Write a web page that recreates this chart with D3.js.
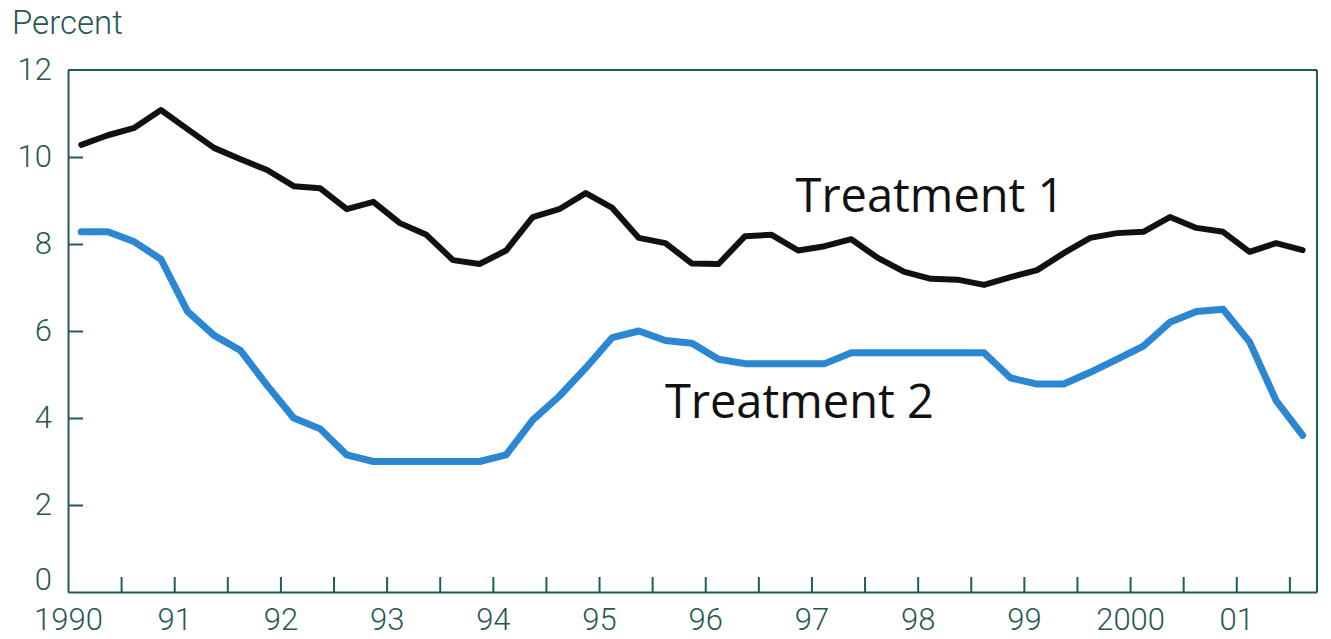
<!DOCTYPE html>
<html>
<head>
<meta charset="utf-8">
<script src="https://cdnjs.cloudflare.com/ajax/libs/d3/7.8.5/d3.min.js"></script>
<style>
    body { margin: 0; background: #fff; }
    svg { display: block; }
    .axis text { font-family: Roboto, "Liberation Sans", sans-serif; font-weight: 300; fill: #2a5754; }
    .axis line, .axis path { stroke: #1e5c5a; stroke-width: 2; }
    .series-label { font-family: "Open Sans", "Noto Sans", sans-serif; font-size: 47px; fill: #111; }
</style>
</head>
<body>
<svg id="chart" width="1331" height="639"></svg>
<script>
// quarterly observations, plotted at mid-quarter (1990Q1 .. 2001Q3)
const quarters = d3.range(47).map(i => 1990.125 + i * 0.25);

const treatment1 = [
    10.28, 10.50, 10.67, 11.08,
    10.64, 10.21, 9.95, 9.70,
    9.33, 9.28, 8.80, 8.97,
    8.48, 8.21, 7.63, 7.54,
    7.85, 8.62, 8.80, 9.17,
    8.83, 8.14, 8.02, 7.55,
    7.54, 8.18, 8.21, 7.85,
    7.95, 8.11, 7.68, 7.36,
    7.20, 7.18, 7.06, 7.24,
    7.40, 7.79, 8.14, 8.25,
    8.28, 8.62, 8.37, 8.28,
    7.82, 8.02, 7.86
];

const treatment2 = [
    8.28, 8.28, 8.05, 7.65,
    6.45, 5.90, 5.55, 4.75,
    4.00, 3.75, 3.15, 3.00,
    3.00, 3.00, 3.00, 3.00,
    3.15, 3.95, 4.50, 5.15,
    5.85, 6.00, 5.78, 5.72,
    5.35, 5.25, 5.25, 5.25,
    5.25, 5.50, 5.50, 5.50,
    5.50, 5.50, 5.50, 4.92,
    4.78, 4.78, 5.05, 5.35,
    5.65, 6.20, 6.45, 6.50,
    5.75, 4.40, 3.60
];

const yTicks = [0, 2, 4, 6, 8, 10, 12];
const xTicks = d3.range(1990, 2002, 0.5);
const yearLabel = t => (t === 1990 || t === 2000) ? String(t) : String(t % 100).padStart(2, '0');

const svg = d3.select('#chart');
const x = d3.scaleLinear().domain([1990, 2001.76]).range([68, 1317]);
const y = d3.scaleLinear().domain([0, 12]).range([592, 70]);

// frame: top and right edges
svg.append('line').attr('x1', x(1990)).attr('x2', x(2001.76)).attr('y1', y(12)).attr('y2', y(12))
    .attr('stroke', '#1e5c5a').attr('stroke-width', 2);
svg.append('line').attr('x1', x(2001.76)).attr('x2', x(2001.76)).attr('y1', y(12)).attr('y2', y(0))
    .attr('stroke', '#1e5c5a').attr('stroke-width', 2);

const yAxis = svg.append('g').attr('class', 'axis')
    .attr('transform', `translate(${x(1990)},0)`)
    .call(d3.axisLeft(y).tickValues(yTicks).tickSizeInner(-15).tickSizeOuter(0).tickPadding(16));
yAxis.selectAll('text').attr('font-size', 31);
yAxis.selectAll('.tick line').filter(d => d === 0 || d === 12).remove();
yAxis.selectAll('.tick text').filter(d => d === 0).attr('dy', '-0.08em');

const xAxis = svg.append('g').attr('class', 'axis')
    .attr('transform', `translate(0,${y(0)})`)
    .call(d3.axisBottom(x).tickValues(xTicks).tickSizeInner(-15).tickSizeOuter(0).tickPadding(16)
        .tickFormat(t => Number.isInteger(t) ? yearLabel(t) : ''));
xAxis.selectAll('text').attr('font-size', 31);
xAxis.selectAll('.tick line').filter(d => d === 1990).remove();

svg.append('text').attr('x', 12).attr('y', 34)
    .attr('font-family', 'Roboto, "Liberation Sans", sans-serif').attr('font-weight', 300)
    .attr('font-size', 33).attr('fill', '#2a5754').text('Percent');

const line = d3.line().x((d, i) => x(quarters[i])).y(d => y(d));

svg.append('path').datum(treatment2).attr('d', line)
    .attr('fill', 'none').attr('stroke', '#2b87d1').attr('stroke-width', 7)
    .attr('stroke-linejoin', 'round').attr('stroke-linecap', 'round');

svg.append('path').datum(treatment1).attr('d', line)
    .attr('fill', 'none').attr('stroke', '#111').attr('stroke-width', 6)
    .attr('stroke-linejoin', 'round').attr('stroke-linecap', 'round');

svg.append('text').attr('class', 'series-label')
    .attr('x', x(1996.85)).attr('y', y(8.74)).text('Treatment 1');
svg.append('text').attr('class', 'series-label')
    .attr('x', x(1995.62)).attr('y', y(4.0)).text('Treatment 2');
</script>
</body>
</html>
